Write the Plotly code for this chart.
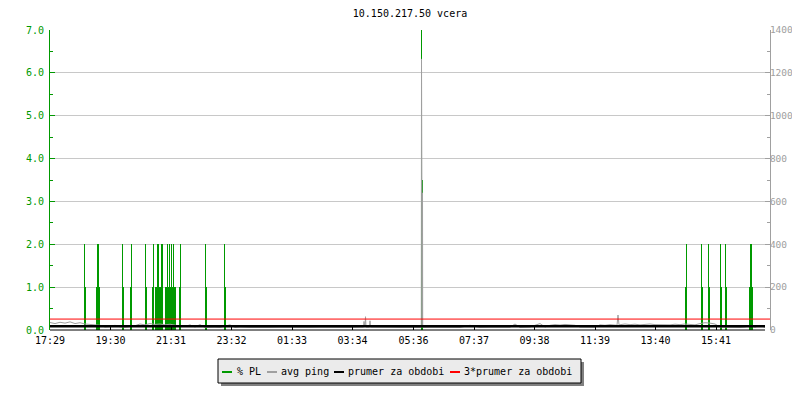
import plotly.graph_objects as go

# ---------------- data ----------------
title_text = "10.150.217.50 vcera"
series_names = ["% PL", "avg ping", "prumer za obdobi", "3*prumer za obdobi"]
series_colors = ["#009900", "#a0a0a0", "#000000", "#ff0000"]

# x axis: minutes since 17:29
tick_minutes = [0, 121, 242, 363, 484, 605, 727, 848, 969, 1090, 1211, 1332]
tick_labels = ["17:29", "19:30", "21:31", "23:32", "01:33", "03:34",
               "05:36", "07:37", "09:38", "11:39", "13:40", "15:41"]

# packet loss samples (minute, %)
pl_minutes = [69, 71,
              93, 95, 97, 99,
              145, 147,
              161, 163,
              191, 193,
              205, 207,
              211, 213, 215, 217, 219, 221, 223, 225,
              231, 233, 235, 237, 239, 241, 243, 245, 247, 249, 251,
              259, 261,
              311, 313,
              349, 351,
              743, 745,
              1271, 1273,
              1303, 1305,
              1317, 1319,
              1341, 1343,
              1351, 1353,
              1399, 1401, 1403, 1405]
pl_values = [2, 1,
             1, 2, 2, 1,
             2, 1,
             1, 2,
             2, 1,
             1, 2,
             1, 1, 2, 2, 1, 1, 2, 2,
             1, 1, 2, 1, 2, 1, 2, 1, 2, 1, 1,
             1, 2,
             2, 1,
             2, 1,
             7, 3.5,
             1, 2,
             2, 1,
             2, 1,
             2, 1,
             2, 1,
             1, 2, 2, 1]

# average ping samples (minute, ms)
ping_minutes = [0, 10, 20, 30, 40, 50, 60, 70, 80, 90, 100,
                110, 120, 130, 140, 150, 160, 170, 180, 190, 200,
                210, 220, 230, 240, 250, 260, 270, 280, 290, 300,
                310, 320, 330, 340, 360, 370, 380, 400, 420, 440,
                460, 480, 500, 520, 540, 560, 580, 600, 620, 627,
                628, 629, 630, 631, 632, 639, 640, 641, 660, 680,
                700, 720, 738, 742.6, 743, 743.4, 744.6, 745, 745.4, 760, 780, 800,
                820, 840, 860, 880, 900, 920, 930, 940, 960, 970,
                980, 990, 1000, 1010, 1020, 1030, 1040, 1050, 1060, 1070,
                1080, 1090, 1100, 1110, 1120, 1130, 1134, 1136, 1138, 1150,
                1160, 1170, 1180, 1190, 1200, 1210, 1220, 1230, 1240, 1250,
                1260, 1270, 1280, 1290, 1300, 1310, 1320, 1330, 1340, 1350,
                1360, 1370, 1380, 1390, 1400, 1410, 1420, 1430]
ping_ms = [35, 30, 36, 32, 38, 30, 34, 28, 26, 24, 22,
           14, 16, 22, 15, 13, 15, 20, 28, 24, 30,
           26, 28, 24, 27, 22, 18, 16, 24, 14, 25,
           12, 14, 13, 12, 24, 12, 14, 12, 11, 12,
           13, 12, 13, 12, 13, 12, 13, 12, 14, 14,
           40, 14, 14, 62, 14, 14, 43, 14, 12, 13,
           12, 13, 12, 12, 1265, 14, 14, 640, 12, 13, 12, 14,
           12, 22, 12, 13, 12, 13, 28, 12, 14, 22,
           30, 14, 22, 25, 23, 26, 24, 22, 14, 13,
           12, 13, 24, 22, 25, 23, 22, 70, 24, 28,
           25, 27, 24, 26, 28, 25, 24, 26, 24, 27,
           25, 28, 26, 24, 30, 34, 32, 28, 14, 13,
           12, 13, 12, 14, 20, 13, 22, 12]

avg_ping_ms = 17
avg_x = [0, 1430]
x_range = [0, 1440]
left_range = [0, 7]
right_range = [0, 1400]

# ---------------- figure ----------------
FONT = "DejaVu Sans Mono"
OFF = 8                      # page body margin of the html page
W, H = 800 - OFF, 400 - OFF
ML, MT = 50 - OFF, 30 - OFF
PW, PH = 720, 300
MR, MB = W - ML - PW, H - MT - PH


def px(xp):   # page pixel -> paper x
    return (xp - 50) / PW


def py(yp):   # page pixel -> paper y
    return (330 - yp) / PH


fig = go.Figure()

fig.add_trace(go.Bar(
    x=pl_minutes, y=pl_values, width=2,
    marker=dict(color=series_colors[0], line=dict(width=0)),
    name=series_names[0], showlegend=False, yaxis="y"))

fig.add_trace(go.Scatter(
    x=ping_minutes, y=ping_ms, mode="lines",
    line=dict(color=series_colors[1], width=1),
    name=series_names[1], showlegend=False, yaxis="y2"))

fig.add_trace(go.Scatter(
    x=avg_x, y=[avg_ping_ms] * 2, mode="lines",
    line=dict(color=series_colors[2], width=2.5),
    name=series_names[2], showlegend=False, yaxis="y2"))

fig.add_trace(go.Scatter(
    x=x_range, y=[3 * avg_ping_ms] * 2, mode="lines",
    line=dict(color=series_colors[3], width=1),
    name=series_names[3], showlegend=False, yaxis="y2"))

shapes = []
# x axis baseline
shapes.append(dict(type="line", xref="x", yref="paper", x0=avg_x[0], x1=avg_x[1],
                   y0=0, y1=0, line=dict(color="black", width=1)))
# legend shadow + box
shapes.append(dict(type="rect", xref="paper", yref="paper",
                   x0=px(221), x1=px(584), y0=py(386), y1=py(362),
                   fillcolor="#808080", line=dict(width=0), layer="above"))
shapes.append(dict(type="rect", xref="paper", yref="paper",
                   x0=px(218), x1=px(581), y0=py(383), y1=py(359),
                   fillcolor="#ebebeb", line=dict(color="black", width=1), layer="above"))

annotations = []
sym_x = [222, 267, 334, 450]
txt_x = [237, 281, 348, 464]
leg_y = 371
for name, col, sx, tx in zip(series_names, series_colors, sym_x, txt_x):
    shapes.append(dict(type="line", xref="paper", yref="paper",
                       x0=px(sx), x1=px(sx + 10), y0=py(leg_y + 1), y1=py(leg_y + 1),
                       line=dict(color=col, width=2), layer="above"))
    annotations.append(dict(text=name, xref="paper", yref="paper",
                            x=px(tx - 2), y=py(leg_y), xanchor="left", yanchor="middle",
                            showarrow=False, font=dict(family=FONT, size=10, color="black")))

fig.update_layout(
    width=W, height=H,
    margin=dict(l=ML, r=MR, t=MT, b=MB, autoexpand=False),
    paper_bgcolor="white", plot_bgcolor="white",
    font=dict(family=FONT, size=10, color="black"),
    title=dict(text=title_text, x=px(410), xref="paper", xanchor="center",
               y=(H - (13 - OFF)) / H, yref="container", yanchor="middle",
               font=dict(family=FONT, size=10, color="black")),
    showlegend=False,
    bargap=0,
    xaxis=dict(range=x_range, tickvals=tick_minutes, ticktext=tick_labels,
               ticks="inside", ticklen=5, tickcolor="black", tickwidth=1,
               ticklabelstandoff=3,
               showgrid=False, zeroline=False, showline=False,
               tickfont=dict(family=FONT, size=10, color="black")),
    yaxis=dict(range=left_range, dtick=1, tickformat=".1f",
               ticks="inside", ticklen=5, tickcolor="#009900", tickwidth=1,
               ticklabelstandoff=3,
               showline=True, linecolor="#009900", linewidth=1,
               showgrid=True, gridcolor="#c8c8c8", gridwidth=1, zeroline=False,
               tickfont=dict(family=FONT, size=10, color="#009900"),
               minor=dict(dtick=0.5, ticks="inside", ticklen=3,
                          tickcolor="#009900", showgrid=False)),
    yaxis2=dict(range=right_range, dtick=200, overlaying="y", side="right",
                ticks="inside", ticklen=5, tickcolor="#a0a0a0", tickwidth=1,
                ticklabelstandoff=-3,
                showline=True, linecolor="#a0a0a0", linewidth=1,
                showgrid=False, zeroline=False,
                tickfont=dict(family=FONT, size=9.5, color="#a0a0a0"),
                minor=dict(dtick=100, ticks="inside", ticklen=3,
                           tickcolor="#a0a0a0", showgrid=False)),
    shapes=shapes,
    annotations=annotations,
)

fig.write_html("out.html")
